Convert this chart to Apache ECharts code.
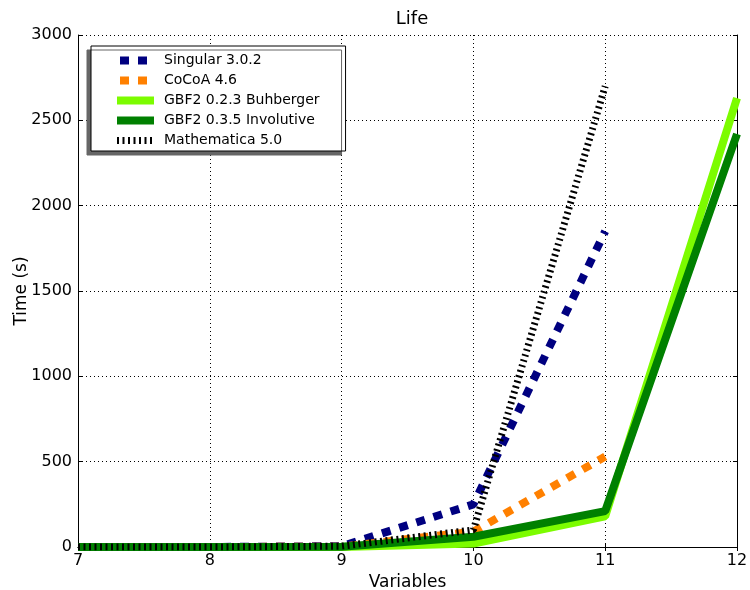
<!DOCTYPE html>
<html>
<head>
<meta charset="utf-8">
<script src="https://cdn.jsdelivr.net/npm/echarts@6/dist/echarts.min.js"></script>
<style>
  html, body { margin: 0; padding: 0; background: #fff; }
  #chart { width: 750px; height: 590px; }
</style>
</head>
<body>
<div id="chart"></div>
<script>
// variables on the x axis
var variables = [7, 8, 9, 10, 11, 12];
// run times (s)
var singular = [0, 0, 5, 250, 1850];
var cocoa = [0, 0, 2, 90, 530];
var gbfBuhberger = [0, 0, 0, 20, 180, 2630];
var gbfInvolutive = [0, 0, 2, 60, 210, 2420];
var mathematica = [0, 0, 5, 100, 2700];

function pairs(vals) {
  return vals.map(function (v, i) { return [variables[i], v]; });
}

var font = "DejaVu Sans";
var chart = echarts.init(document.getElementById("chart"));

// ticks drawn inside the frame on all four sides
var frameTick = { show: true, inside: true, length: 4, lineStyle: { color: "#000" } };

var squareDash = { width: 8, type: [9, 9], dashOffset: 15, cap: "butt" };

var option = {
  animation: false,
  backgroundColor: "#fff",
  title: {
    text: "Life",
    left: 407, textAlign: "center", top: 5,
    textStyle: { fontFamily: font, fontSize: 18, fontWeight: "normal", color: "#000" }
  },
  legend: {
    orient: "vertical",
    left: 91, top: 46,
    padding: [7, 26, 3, 22],
    itemWidth: 37, itemHeight: 14, itemGap: 5,
    backgroundColor: "#fff",
    borderColor: "#000", borderWidth: 1,
    shadowColor: "#666", shadowOffsetX: -4, shadowOffsetY: 4, shadowBlur: 0,
    itemStyle: { opacity: 0 },
    lineStyle: { width: 8 },
    textStyle: { fontFamily: font, fontSize: 14, color: "#000", lineHeight: 15, padding: [0, 0, 0, 5] },
    data: [
      { name: "Singular 3.0.2", lineStyle: squareDash },
      { name: "CoCoA 4.6", lineStyle: squareDash },
      { name: "GBF2 0.2.3 Buhberger" },
      { name: "GBF2 0.3.5 Involutive" },
      { name: "Mathematica 5.0", lineStyle: { width: 7, type: [2, 3.5], dashOffset: 0 } }
    ]
  },
  grid: { left: 78, right: 13, top: 35, bottom: 43, outerBoundsMode: "none", containLabel: false },
  xAxis: [{
    type: "value", min: 7, max: 12, interval: 1,
    name: "Variables", nameLocation: "middle", nameGap: 27, nameMoveOverlap: false,
    nameTextStyle: { fontFamily: font, fontSize: 17, color: "#000" },
    axisLine: { lineStyle: { color: "#000", width: 1 } },
    axisTick: frameTick,
    axisLabel: { fontFamily: font, fontSize: 16, color: "#000", margin: 6 },
    splitLine: { show: true, lineStyle: { color: "#000", type: [1, 3], width: 1 } }
  }, {
    type: "value", min: 7, max: 12, interval: 1, position: "top",
    axisLine: { lineStyle: { color: "#000", width: 1 } },
    axisTick: frameTick,
    axisLabel: { show: false },
    splitLine: { show: false }
  }],
  yAxis: [{
    type: "value", min: 0, max: 3000, interval: 500,
    name: "Time (s)", nameLocation: "middle", nameGap: 48, nameRotate: 90, nameMoveOverlap: false,
    nameTextStyle: { fontFamily: font, fontSize: 17, color: "#000" },
    axisLine: { show: true, lineStyle: { color: "#000", width: 1 } },
    axisTick: frameTick,
    axisLabel: { fontFamily: font, fontSize: 16, color: "#000", margin: 6,
      formatter: function (v) { return String(v); } },
    splitLine: { show: true, lineStyle: { color: "#000", type: [1, 3], width: 1 } }
  }, {
    type: "value", min: 0, max: 3000, interval: 500, position: "right",
    axisLine: { show: true, lineStyle: { color: "#000", width: 1 } },
    axisTick: frameTick,
    axisLabel: { show: false },
    splitLine: { show: false }
  }],
  series: [
    {
      name: "Singular 3.0.2", type: "line", data: pairs(singular),
      showSymbol: false, symbol: "none", color: "#000080",
      lineStyle: { color: "#000080", width: 8, type: [9, 9], cap: "butt" }
    },
    {
      name: "CoCoA 4.6", type: "line", data: pairs(cocoa),
      showSymbol: false, symbol: "none", color: "#ff8000",
      lineStyle: { color: "#ff8000", width: 8, type: [9, 9], cap: "butt" }
    },
    {
      name: "GBF2 0.2.3 Buhberger", type: "line", data: pairs(gbfBuhberger),
      showSymbol: false, symbol: "none", color: "#7cfc00",
      lineStyle: { color: "#7cfc00", width: 8 }
    },
    {
      name: "GBF2 0.3.5 Involutive", type: "line", data: pairs(gbfInvolutive),
      showSymbol: false, symbol: "none", color: "#008000",
      lineStyle: { color: "#008000", width: 8 }
    },
    {
      name: "Mathematica 5.0", type: "line", data: pairs(mathematica),
      showSymbol: false, symbol: "none", color: "#000",
      lineStyle: { color: "#000", width: 7, type: [2, 3.5], cap: "butt" }
    }
  ]
};

chart.setOption(option);
</script>
</body>
</html>
